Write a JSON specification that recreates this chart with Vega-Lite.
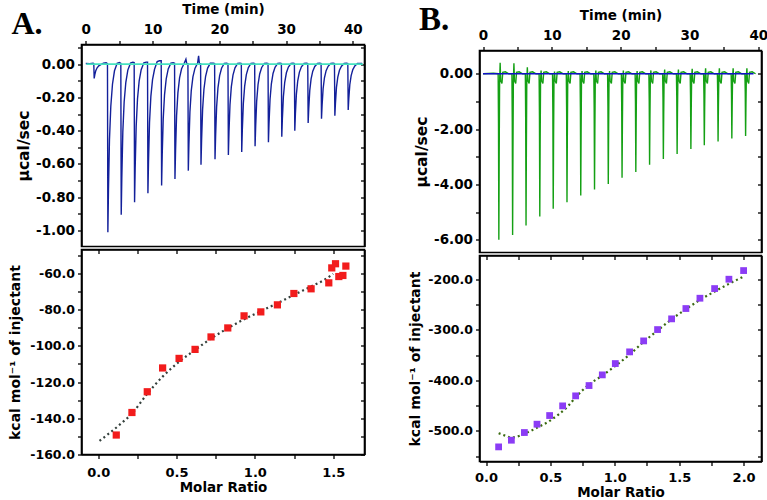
{
"$schema":"https://vega.github.io/schema/vega-lite/v6.json",
"padding":{"left":7.5,"top":0.5,"right":0,"bottom":0},
"background":"white",
"config":{
 "font":"DejaVu Sans",
 "view":{"stroke":"#000","strokeWidth":1.6},
 "axis":{"labelFont":"DejaVu Sans","titleFont":"DejaVu Sans","labelFontWeight":"bold","titleFontWeight":"bold","labelColor":"#000","titleColor":"#000","tickColor":"#000","domainColor":"#000","domainWidth":1.6,"tickWidth":1.3,"tickSize":4,"grid":false,"labelFlush":false,"labelOverlap":false,"labelBound":false}
},
"concat":[
{
 "spacing":0,
 "vconcat":[
  {"width":283,"height":1,"data":{"values":[{}]},"mark":{"type":"rect","color":"white"},"encoding":{},"view":{"stroke":null,"fill":"white"}},
  {
   "width":283,"height":202,
   "layer":[
    {"data":{"name":"traceA"},
     "mark":{"type":"line","color":"#13209a","strokeWidth":1.4,"clip":true},
     "encoding":{
      "x":{"field":"t","type":"quantitative","scale":{"domain":[-0.64,41.75],"nice":false,"zero":false},
           "axis":{"orient":"top","title":"Time (min)","values":[0,5,10,15,20,25,30,35,40],"labelExpr":"datum.value % 10 == 0 ? datum.label : ''","labelFontSize":13.5,"titleFontSize":13.5,"labelPadding":4,"titlePadding":6}},
      "y":{"field":"v","type":"quantitative","scale":{"domain":[-1.096,0.118],"nice":false,"zero":false},
           "axis":{"orient":"left","title":"µcal/sec","values":[0.1,0,-0.1,-0.2,-0.3,-0.4,-0.5,-0.6,-0.7,-0.8,-0.9,-1.0],"labelExpr":"abs(round(datum.value*10)) % 2 == 0 ? (datum.value < -0.001 ? '-' : '') + format(abs(datum.value), '.2f') : ''","labelFontSize":13.5,"titleFontSize":15.5,"labelPadding":3,"titlePadding":4}}
     }},
    {"data":{"name":"baseA"},
     "mark":{"type":"line","color":"#45e3c0","strokeWidth":1.6,"clip":true},
     "encoding":{
      "x":{"field":"t","type":"quantitative","scale":{"domain":[-0.64,41.75],"nice":false,"zero":false},"axis":null},
      "y":{"field":"v","type":"quantitative","scale":{"domain":[-1.096,0.118],"nice":false,"zero":false},
           "axis":{"orient":"right","title":null,"labels":false,"tickSize":-4,"values":[0.1,0,-0.1,-0.2,-0.3,-0.4,-0.5,-0.6,-0.7,-0.8,-0.9,-1.0]}}
     }},
    {"data":{"values":[{"label":"A."}]},
     "mark":{"type":"text","font":"Liberation Serif","fontSize":32,"fontWeight":"bold","color":"#000","align":"left","baseline":"alphabetic","clip":false},
     "encoding":{
      "text":{"field":"label"},
      "x":{"datum":-11.13,"type":"quantitative","scale":{"domain":[-0.64,41.75],"nice":false,"zero":false},"axis":null},
      "y":{"datum":0.181,"type":"quantitative","scale":{"domain":[-1.096,0.118],"nice":false,"zero":false},"axis":null}
     }}
   ],
   "resolve":{"axis":{"x":"independent","y":"independent"}}
  },
  {
   "width":283,"height":205,
   "layer":[
    {"data":{"name":"fitA"},
     "mark":{"type":"line","color":"#34403c","strokeDash":[2,3],"strokeWidth":2.2,"interpolate":"monotone"},
     "encoding":{
      "x":{"field":"r","type":"quantitative","scale":{"domain":[-0.107,1.70],"nice":false,"zero":false},
           "axis":{"orient":"top","title":null,"labels":false,"tickSize":-4,"values":[0,0.25,0.5,0.75,1,1.25,1.5]}},
      "y":{"field":"h","type":"quantitative","scale":{"domain":[-160.2,-46.5],"nice":false,"zero":false},
           "axis":{"orient":"right","title":null,"labels":false,"tickSize":-4,"values":[-160,-150,-140,-130,-120,-110,-100,-90,-80,-70,-60,-50]}}
     }},
    {"data":{"name":"pointsA"},
     "mark":{"type":"square","size":52,"color":"#f21c1c","opacity":1},
     "encoding":{
      "x":{"field":"r","type":"quantitative","scale":{"domain":[-0.107,1.70],"nice":false,"zero":false},
           "axis":{"orient":"bottom","title":"Molar Ratio","values":[0,0.25,0.5,0.75,1,1.25,1.5],"labelExpr":"round(datum.value*4) % 2 == 0 ? format(datum.value, '.1f') : ''","labelFontSize":13,"titleFontSize":13.5,"labelPadding":8,"titlePadding":0.5}},
      "y":{"field":"h","type":"quantitative","scale":{"domain":[-160.2,-46.5],"nice":false,"zero":false},
           "axis":{"orient":"left","title":"kcal mol⁻¹ of injectant","values":[-160,-150,-140,-130,-120,-110,-100,-90,-80,-70,-60,-50],"labelExpr":"datum.value % 20 == 0 ? '-' + format(abs(datum.value), '.1f') : ''","labelFontSize":12.5,"titleFontSize":14,"labelPadding":3,"titlePadding":7}}
     }}
   ],
   "resolve":{"axis":{"x":"independent","y":"independent"}}
  }
 ]
},
{
 "spacing":0,
 "vconcat":[
  {"width":282,"height":3,"data":{"values":[{}]},"mark":{"type":"rect","color":"white"},"encoding":{},"view":{"stroke":null,"fill":"white"}},
  {
   "width":282,"height":202,
   "layer":[
    {"data":{"name":"traceB"},
     "mark":{"type":"line","color":"#14a014","strokeWidth":1.4,"clip":true},
     "encoding":{
      "x":{"field":"t","type":"quantitative","scale":{"domain":[-0.51,40.46],"nice":false,"zero":false},
           "axis":{"orient":"top","title":"Time (min)","values":[0,5,10,15,20,25,30,35,40],"labelExpr":"datum.value % 10 == 0 ? datum.label : ''","labelFontSize":13.5,"titleFontSize":13.5,"labelPadding":4,"titlePadding":6}},
      "y":{"field":"v","type":"quantitative","scale":{"domain":[-6.46,0.84],"nice":false,"zero":false},
           "axis":{"orient":"left","title":"µcal/sec","values":[0,-1,-2,-3,-4,-5,-6],"labelExpr":"abs(datum.value) % 2 == 0 ? (datum.value < 0 ? '-' : '') + format(abs(datum.value), '.2f') : ''","labelFontSize":13.5,"titleFontSize":15.5,"labelPadding":3,"titlePadding":4}}
     }},
    {"data":{"name":"baseB"},
     "mark":{"type":"line","color":"#1010c8","strokeWidth":1.5,"clip":true},
     "encoding":{
      "x":{"field":"t","type":"quantitative","scale":{"domain":[-0.51,40.46],"nice":false,"zero":false},"axis":null},
      "y":{"field":"v","type":"quantitative","scale":{"domain":[-6.46,0.84],"nice":false,"zero":false},
           "axis":{"orient":"right","title":null,"labels":false,"tickSize":-4,"values":[0,-1,-2,-3,-4,-5,-6]}}
     }},
    {"data":{"values":[{"label":"B."}]},
     "mark":{"type":"text","font":"Liberation Serif","fontSize":33,"fontWeight":"bold","color":"#000","align":"left","baseline":"alphabetic","clip":false},
     "encoding":{
      "text":{"field":"label"},
      "x":{"datum":-9.3,"type":"quantitative","scale":{"domain":[-0.51,40.46],"nice":false,"zero":false},"axis":null},
      "y":{"datum":1.563,"type":"quantitative","scale":{"domain":[-6.46,0.84],"nice":false,"zero":false},"axis":null}
     }}
   ],
   "resolve":{"axis":{"x":"independent","y":"independent"}}
  },
  {
   "width":282,"height":206,
   "layer":[
    {"data":{"name":"fitB"},
     "mark":{"type":"line","color":"#3a6a10","strokeDash":[2,3],"strokeWidth":2.2,"interpolate":"monotone"},
     "encoding":{
      "x":{"field":"r","type":"quantitative","scale":{"domain":[-0.0505,2.139],"nice":false,"zero":false},
           "axis":{"orient":"top","title":null,"labels":false,"tickSize":-4,"values":[0,0.25,0.5,0.75,1,1.25,1.5,1.75,2]}},
      "y":{"field":"h","type":"quantitative","scale":{"domain":[-560.5,-153.1],"nice":false,"zero":false},
           "axis":{"orient":"right","title":null,"labels":false,"tickSize":-4,"values":[-550,-500,-450,-400,-350,-300,-250,-200]}}
     }},
    {"data":{"name":"pointsB"},
     "mark":{"type":"square","size":46,"color":"#8b3cf5","opacity":1},
     "encoding":{
      "x":{"field":"r","type":"quantitative","scale":{"domain":[-0.0505,2.139],"nice":false,"zero":false},
           "axis":{"orient":"bottom","title":"Molar Ratio","values":[0,0.25,0.5,0.75,1,1.25,1.5,1.75,2],"labelExpr":"round(datum.value*4) % 2 == 0 ? format(datum.value, '.1f') : ''","labelFontSize":13,"titleFontSize":13.5,"labelPadding":5.5,"titlePadding":1}},
      "y":{"field":"h","type":"quantitative","scale":{"domain":[-560.5,-153.1],"nice":false,"zero":false},
           "axis":{"orient":"left","title":"kcal mol⁻¹ of injectant","values":[-550,-500,-450,-400,-350,-300,-250,-200],"labelExpr":"datum.value % 100 == 0 ? '-' + format(abs(datum.value), '.1f') : ''","labelFontSize":12.5,"titleFontSize":14,"labelPadding":3,"titlePadding":5}}
     }}
   ],
   "resolve":{"axis":{"x":"independent","y":"independent"}}
  }
 ]
}
],
"columns":2,
"spacing":41,
"datasets":{
 "baseA":[{"t":0.1,"v":0},{"t":41.5,"v":0}],
 "baseB":[{"t":0,"v":0},{"t":39.3,"v":0}],
 "pointsA":[{"r":0.115,"h":-149.4},{"r":0.215,"h":-136.9},{"r":0.313,"h":-125.4},{"r":0.411,"h":-112.2},{"r":0.516,"h":-106.9},{"r":0.618,"h":-101.9},{"r":0.72,"h":-95.0},{"r":0.827,"h":-90.0},{"r":0.931,"h":-83.3},{"r":1.038,"h":-81.1},{"r":1.144,"h":-77.2},{"r":1.249,"h":-70.9},{"r":1.359,"h":-68.3},{"r":1.472,"h":-65.0},{"r":1.491,"h":-56.7},{"r":1.515,"h":-54.4},{"r":1.536,"h":-61.5},{"r":1.562,"h":-60.9},{"r":1.581,"h":-55.7}],
 "fitA":[{"r":0.008,"h":-152.6},{"r":0.146,"h":-143},{"r":0.215,"h":-137.5},{"r":0.313,"h":-126.5},{"r":0.411,"h":-117},{"r":0.516,"h":-108.8},{"r":0.618,"h":-102.2},{"r":0.72,"h":-95.9},{"r":0.827,"h":-90.2},{"r":0.931,"h":-85.2},{"r":1.038,"h":-80.7},{"r":1.144,"h":-76.3},{"r":1.249,"h":-71.7},{"r":1.359,"h":-67},{"r":1.45,"h":-63},{"r":1.5,"h":-60}],
 "pointsB":[{"r":0.098,"h":-531.6},{"r":0.197,"h":-518.4},{"r":0.298,"h":-503.2},{"r":0.396,"h":-486.7},{"r":0.494,"h":-469.6},{"r":0.595,"h":-450.5},{"r":0.696,"h":-430.7},{"r":0.8,"h":-410.3},{"r":0.903,"h":-389.2},{"r":1.004,"h":-366.8},{"r":1.115,"h":-343.7},{"r":1.224,"h":-322.0},{"r":1.332,"h":-299.6},{"r":1.441,"h":-278.4},{"r":1.552,"h":-258.0},{"r":1.661,"h":-237.6},{"r":1.775,"h":-218.5},{"r":1.886,"h":-200.0},{"r":2.0,"h":-182.9}],
 "fitB":[{"r":0.098,"h":-504.5},{"r":0.155,"h":-509.8},{"r":0.197,"h":-513.1},{"r":0.259,"h":-509.8},{"r":0.336,"h":-501.3},{"r":0.414,"h":-491.4},{"r":0.494,"h":-480.2},{"r":0.569,"h":-466.3},{"r":0.634,"h":-451.8},{"r":0.696,"h":-433.4},{"r":0.8,"h":-408.3},{"r":0.903,"h":-390.5},{"r":1.004,"h":-371.4},{"r":1.115,"h":-349.0},{"r":1.224,"h":-323.9},{"r":1.332,"h":-301.5},{"r":1.441,"h":-279.1},{"r":1.552,"h":-259.3},{"r":1.661,"h":-240.9},{"r":1.775,"h":-224.4},{"r":1.886,"h":-209.2},{"r":2.0,"h":-194.7}],
 "traceA":[{"t":0,"v":0.004},{"t":0.6,"v":0.002},{"t":1.1,"v":0.006},
{"t":1.2,"v":0.003},{"t":1.26,"v":-0.086},{"t":1.35,"v":-0.065},{"t":1.5,"v":-0.039},{"t":1.7,"v":-0.022},{"t":1.95,"v":-0.01},{"t":2.25,"v":-0.003},{"t":2.65,"v":0.006},{"t":3.05,"v":0.008},
{"t":3.25,"v":0.003},{"t":3.31,"v":-1.01},{"t":3.4,"v":-0.758},{"t":3.55,"v":-0.455},{"t":3.75,"v":-0.253},{"t":4.0,"v":-0.121},{"t":4.3,"v":-0.04},{"t":4.7,"v":0.005},{"t":5.05,"v":0.01},
{"t":5.25,"v":0.004},{"t":5.31,"v":-0.905},{"t":5.4,"v":-0.679},{"t":5.55,"v":-0.407},{"t":5.75,"v":-0.226},{"t":6.0,"v":-0.109},{"t":6.3,"v":-0.036},{"t":6.7,"v":0.006},{"t":7.05,"v":0.012},
{"t":7.25,"v":0.01},{"t":7.31,"v":-0.83},{"t":7.4,"v":-0.623},{"t":7.55,"v":-0.374},{"t":7.75,"v":-0.208},{"t":8.0,"v":-0.1},{"t":8.3,"v":-0.033},{"t":8.7,"v":0.008},{"t":9.05,"v":0.012},
{"t":9.25,"v":0.012},{"t":9.31,"v":-0.776},{"t":9.4,"v":-0.582},{"t":9.55,"v":-0.349},{"t":9.75,"v":-0.194},{"t":10.0,"v":-0.093},{"t":10.3,"v":-0.031},{"t":10.7,"v":0.015},{"t":11.05,"v":0.02},
{"t":11.3,"v":0.02},{"t":11.36,"v":-0.73},{"t":11.45,"v":-0.548},{"t":11.6,"v":-0.329},{"t":11.8,"v":-0.183},{"t":12.05,"v":-0.088},{"t":12.35,"v":-0.029},{"t":12.75,"v":0.006},{"t":13.1,"v":0.008},
{"t":13.3,"v":0.005},{"t":13.36,"v":-0.69},{"t":13.45,"v":-0.518},{"t":13.6,"v":-0.311},{"t":13.8,"v":-0.173},{"t":14.05,"v":-0.083},{"t":14.35,"v":-0.028},{"t":14.75,"v":0.005},{"t":15.0,"v":0.03},{"t":15.12,"v":0.004},
{"t":15.3,"v":0.003},{"t":15.36,"v":-0.64},{"t":15.45,"v":-0.48},{"t":15.6,"v":-0.288},{"t":15.8,"v":-0.16},{"t":16.05,"v":-0.077},{"t":16.35,"v":-0.026},{"t":16.75,"v":0.006},{"t":16.9,"v":0.05},{"t":17.02,"v":0.004},
{"t":17.2,"v":0.003},{"t":17.26,"v":-0.605},{"t":17.35,"v":-0.454},{"t":17.5,"v":-0.272},{"t":17.7,"v":-0.151},{"t":17.95,"v":-0.073},{"t":18.25,"v":-0.024},{"t":18.65,"v":0.005},{"t":19.1,"v":0.006},
{"t":19.3,"v":0.004},{"t":19.36,"v":-0.572},{"t":19.45,"v":-0.429},{"t":19.6,"v":-0.257},{"t":19.8,"v":-0.143},{"t":20.05,"v":-0.069},{"t":20.35,"v":-0.023},{"t":20.75,"v":0.004},{"t":21.1,"v":0.006},
{"t":21.3,"v":0.003},{"t":21.36,"v":-0.546},{"t":21.45,"v":-0.41},{"t":21.6,"v":-0.246},{"t":21.8,"v":-0.137},{"t":22.05,"v":-0.066},{"t":22.35,"v":-0.022},{"t":22.75,"v":0.004},{"t":23.1,"v":0.005},
{"t":23.3,"v":0.003},{"t":23.36,"v":-0.528},{"t":23.45,"v":-0.396},{"t":23.6,"v":-0.238},{"t":23.8,"v":-0.132},{"t":24.05,"v":-0.063},{"t":24.35,"v":-0.021},{"t":24.75,"v":0.004},{"t":25.1,"v":0.005},
{"t":25.3,"v":0.003},{"t":25.36,"v":-0.494},{"t":25.45,"v":-0.371},{"t":25.6,"v":-0.222},{"t":25.8,"v":-0.124},{"t":26.05,"v":-0.059},{"t":26.35,"v":-0.02},{"t":26.75,"v":0.004},{"t":27.1,"v":0.005},
{"t":27.3,"v":0.003},{"t":27.36,"v":-0.47},{"t":27.45,"v":-0.353},{"t":27.6,"v":-0.212},{"t":27.8,"v":-0.118},{"t":28.05,"v":-0.056},{"t":28.35,"v":-0.019},{"t":28.75,"v":0.004},{"t":29.1,"v":0.005},
{"t":29.3,"v":0.003},{"t":29.36,"v":-0.436},{"t":29.45,"v":-0.327},{"t":29.6,"v":-0.196},{"t":29.8,"v":-0.109},{"t":30.05,"v":-0.052},{"t":30.35,"v":-0.017},{"t":30.75,"v":0.004},{"t":31.05,"v":0.005},
{"t":31.25,"v":0.003},{"t":31.31,"v":-0.4},{"t":31.4,"v":-0.3},{"t":31.55,"v":-0.18},{"t":31.75,"v":-0.1},{"t":32.0,"v":-0.048},{"t":32.3,"v":-0.016},{"t":32.7,"v":0.004},{"t":33.05,"v":0.005},
{"t":33.25,"v":0.003},{"t":33.31,"v":-0.354},{"t":33.4,"v":-0.266},{"t":33.55,"v":-0.159},{"t":33.75,"v":-0.089},{"t":34.0,"v":-0.042},{"t":34.3,"v":-0.014},{"t":34.7,"v":0.004},{"t":35.05,"v":0.005},
{"t":35.25,"v":0.003},{"t":35.31,"v":-0.328},{"t":35.4,"v":-0.246},{"t":35.55,"v":-0.148},{"t":35.75,"v":-0.082},{"t":36.0,"v":-0.039},{"t":36.3,"v":-0.013},{"t":36.7,"v":0.004},{"t":37.05,"v":0.005},
{"t":37.25,"v":0.003},{"t":37.31,"v":-0.31},{"t":37.4,"v":-0.233},{"t":37.55,"v":-0.14},{"t":37.75,"v":-0.078},{"t":38.0,"v":-0.037},{"t":38.3,"v":-0.012},{"t":38.7,"v":0.004},{"t":39.05,"v":0.005},
{"t":39.25,"v":0.003},{"t":39.31,"v":-0.276},{"t":39.4,"v":-0.207},{"t":39.55,"v":-0.124},{"t":39.75,"v":-0.069},{"t":40.0,"v":-0.033},{"t":40.3,"v":-0.011},{"t":40.7,"v":0.004},{"t":41.4,"v":0.004}],
 "traceB":[{"t":0,"v":0},{"t":1.5,"v":0.02},
{"t":2.2,"v":0},{"t":2.25,"v":-1.8},{"t":2.3,"v":-6.0},{"t":2.35,"v":-3.0},{"t":2.41,"v":-0.3},{"t":2.49,"v":0.4},{"t":2.57,"v":-0.25},{"t":2.75,"v":-0.35},{"t":2.87,"v":0.05},{"t":3.25,"v":0.07},{"t":3.75,"v":0},
{"t":4.2,"v":0},{"t":4.25,"v":-1.75},{"t":4.3,"v":-5.83},{"t":4.35,"v":-2.92},{"t":4.41,"v":-0.29},{"t":4.49,"v":0.38},{"t":4.57,"v":-0.25},{"t":4.75,"v":-0.35},{"t":4.87,"v":0.05},{"t":5.25,"v":0.07},{"t":5.75,"v":0},
{"t":6.15,"v":0},{"t":6.2,"v":-1.64},{"t":6.25,"v":-5.48},{"t":6.3,"v":-2.74},{"t":6.36,"v":-0.27},{"t":6.44,"v":0.23},{"t":6.52,"v":-0.25},{"t":6.7,"v":-0.35},{"t":6.82,"v":0.05},{"t":7.2,"v":0.07},{"t":7.7,"v":0},
{"t":8.15,"v":0},{"t":8.2,"v":-1.55},{"t":8.25,"v":-5.16},{"t":8.3,"v":-2.58},{"t":8.36,"v":-0.26},{"t":8.44,"v":0.12},{"t":8.52,"v":-0.25},{"t":8.7,"v":-0.35},{"t":8.82,"v":0.05},{"t":9.2,"v":0.07},{"t":9.7,"v":0},
{"t":10.1,"v":0},{"t":10.15,"v":-1.46},{"t":10.2,"v":-4.88},{"t":10.25,"v":-2.44},{"t":10.31,"v":-0.24},{"t":10.39,"v":0.08},{"t":10.47,"v":-0.25},{"t":10.65,"v":-0.35},{"t":10.77,"v":0.05},{"t":11.15,"v":0.07},{"t":11.65,"v":0},
{"t":12.1,"v":0},{"t":12.15,"v":-1.39},{"t":12.2,"v":-4.64},{"t":12.25,"v":-2.32},{"t":12.31,"v":-0.23},{"t":12.39,"v":0.1},{"t":12.47,"v":-0.25},{"t":12.65,"v":-0.35},{"t":12.77,"v":0.05},{"t":13.15,"v":0.07},{"t":13.65,"v":0},
{"t":14.1,"v":0},{"t":14.15,"v":-1.32},{"t":14.2,"v":-4.4},{"t":14.25,"v":-2.2},{"t":14.31,"v":-0.22},{"t":14.39,"v":0.1},{"t":14.47,"v":-0.25},{"t":14.65,"v":-0.35},{"t":14.77,"v":0.05},{"t":15.15,"v":0.07},{"t":15.65,"v":0},
{"t":16.1,"v":0},{"t":16.15,"v":-1.25},{"t":16.2,"v":-4.18},{"t":16.25,"v":-2.09},{"t":16.31,"v":-0.21},{"t":16.39,"v":0.12},{"t":16.47,"v":-0.25},{"t":16.65,"v":-0.35},{"t":16.77,"v":0.05},{"t":17.15,"v":0.07},{"t":17.65,"v":0},
{"t":18.1,"v":0},{"t":18.15,"v":-1.19},{"t":18.2,"v":-3.98},{"t":18.25,"v":-1.99},{"t":18.31,"v":-0.2},{"t":18.39,"v":0.1},{"t":18.47,"v":-0.25},{"t":18.65,"v":-0.35},{"t":18.77,"v":0.05},{"t":19.15,"v":0.07},{"t":19.65,"v":0},
{"t":20.1,"v":0},{"t":20.15,"v":-1.13},{"t":20.2,"v":-3.76},{"t":20.25,"v":-1.88},{"t":20.31,"v":-0.19},{"t":20.39,"v":0.12},{"t":20.47,"v":-0.25},{"t":20.65,"v":-0.35},{"t":20.77,"v":0.05},{"t":21.15,"v":0.07},{"t":21.65,"v":0},
{"t":22.1,"v":0},{"t":22.15,"v":-1.07},{"t":22.2,"v":-3.55},{"t":22.25,"v":-1.78},{"t":22.31,"v":-0.18},{"t":22.39,"v":0.1},{"t":22.47,"v":-0.25},{"t":22.65,"v":-0.35},{"t":22.77,"v":0.05},{"t":23.15,"v":0.07},{"t":23.65,"v":0},
{"t":24.1,"v":0},{"t":24.15,"v":-0.99},{"t":24.2,"v":-3.29},{"t":24.25,"v":-1.65},{"t":24.31,"v":-0.16},{"t":24.39,"v":0.12},{"t":24.47,"v":-0.25},{"t":24.65,"v":-0.35},{"t":24.77,"v":0.05},{"t":25.15,"v":0.07},{"t":25.65,"v":0},
{"t":26.1,"v":0},{"t":26.15,"v":-0.92},{"t":26.2,"v":-3.08},{"t":26.25,"v":-1.54},{"t":26.31,"v":-0.15},{"t":26.39,"v":0.15},{"t":26.47,"v":-0.25},{"t":26.65,"v":-0.35},{"t":26.77,"v":0.05},{"t":27.15,"v":0.07},{"t":27.65,"v":0},
{"t":28.1,"v":0},{"t":28.15,"v":-0.87},{"t":28.2,"v":-2.9},{"t":28.25,"v":-1.45},{"t":28.31,"v":-0.15},{"t":28.39,"v":0.15},{"t":28.47,"v":-0.25},{"t":28.65,"v":-0.35},{"t":28.77,"v":0.05},{"t":29.15,"v":0.07},{"t":29.65,"v":0},
{"t":30.1,"v":0},{"t":30.15,"v":-0.82},{"t":30.2,"v":-2.72},{"t":30.25,"v":-1.36},{"t":30.31,"v":-0.14},{"t":30.39,"v":0.18},{"t":30.47,"v":-0.25},{"t":30.65,"v":-0.35},{"t":30.77,"v":0.05},{"t":31.15,"v":0.07},{"t":31.65,"v":0},
{"t":32.05,"v":0},{"t":32.1,"v":-0.77},{"t":32.15,"v":-2.58},{"t":32.2,"v":-1.29},{"t":32.26,"v":-0.13},{"t":32.34,"v":0.2},{"t":32.42,"v":-0.25},{"t":32.6,"v":-0.35},{"t":32.72,"v":0.05},{"t":33.1,"v":0.07},{"t":33.6,"v":0},
{"t":34.05,"v":0},{"t":34.1,"v":-0.74},{"t":34.15,"v":-2.45},{"t":34.2,"v":-1.23},{"t":34.26,"v":-0.12},{"t":34.34,"v":0.2},{"t":34.42,"v":-0.25},{"t":34.6,"v":-0.35},{"t":34.72,"v":0.05},{"t":35.1,"v":0.07},{"t":35.6,"v":0},
{"t":36.05,"v":0},{"t":36.1,"v":-0.7},{"t":36.15,"v":-2.34},{"t":36.2,"v":-1.17},{"t":36.26,"v":-0.12},{"t":36.34,"v":0.2},{"t":36.42,"v":-0.25},{"t":36.6,"v":-0.35},{"t":36.72,"v":0.05},{"t":37.1,"v":0.07},{"t":37.6,"v":0},
{"t":38.05,"v":0},{"t":38.1,"v":-0.68},{"t":38.15,"v":-2.25},{"t":38.2,"v":-1.13},{"t":38.26,"v":-0.11},{"t":38.34,"v":0.2},{"t":38.42,"v":-0.25},{"t":38.6,"v":-0.35},{"t":38.72,"v":0.05},{"t":39.1,"v":0.07},{"t":39.6,"v":0}]
}
}
